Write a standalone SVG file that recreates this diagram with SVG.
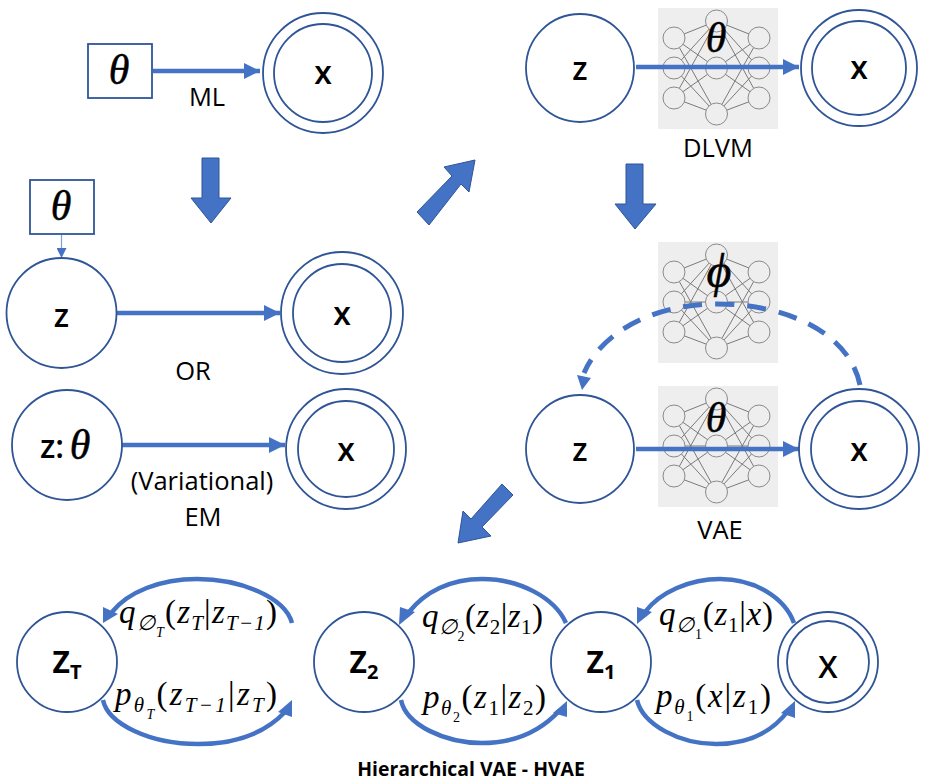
<svg xmlns="http://www.w3.org/2000/svg" width="929" height="783" viewBox="0 0 929 783">
<style>
.n{fill:#fff;stroke:#2f5597;stroke-width:1.8}
.c{fill:none;stroke:#4472c4;stroke-width:4.5}
.t{font-family:"Open Sans","Noto Sans",sans-serif;fill:#000;text-anchor:middle}
.l{font-size:25.500px}
.b{font-size:32px;font-weight:600}
.m{font-family:"Liberation Serif","DejaVu Serif",serif;font-style:italic;fill:#000}
.th{font-size:42px;text-anchor:middle;stroke:#000;stroke-width:.5}
.f{font-size:33px}
.s{font-size:21px}
.ss{font-size:14px}
.u{font-style:normal}
.a{fill:#4472c4}
.d{fill:#4472c4;stroke:#2f5597;stroke-width:1}
.g{fill:none;stroke:#7a7a7a;stroke-width:1}
</style>
<defs>
<marker id="ah" viewBox="0 0 10 10" refX="10" refY="5" markerUnits="userSpaceOnUse" markerWidth="16" markerHeight="16" orient="auto"><path d="M0 0L10 5L0 10z" class="a"/></marker>
<marker id="ah2" viewBox="0 0 10 10" refX="10" refY="5" markerUnits="userSpaceOnUse" markerWidth="10" markerHeight="10" orient="auto"><path d="M0 0L10 5L0 10z" class="a"/></marker>
<g id="nn">
<rect x="658" y="8" width="120" height="121" fill="#eeeeee"/>
<path class="g" d="M674 38L716.500 21L759 38M674 38L716.500 68L759 38M674 38L716.500 114L759 38M674 68L716.500 21L759 68M674 68H759M674 68L716.500 114L759 68M674 98L716.500 21L759 98M674 98L716.500 68L759 98M674 98L716.500 114L759 98"/>
<g fill="#eeeeee" stroke="#8a8a8a" stroke-width="1">
<circle cx="674" cy="38" r="11"/><circle cx="674" cy="68" r="11"/><circle cx="674" cy="98" r="11"/>
<circle cx="716.500" cy="21" r="11"/><circle cx="716.500" cy="68" r="11"/><circle cx="716.500" cy="114" r="11"/>
<circle cx="759" cy="38" r="11"/><circle cx="759" cy="68" r="11"/><circle cx="759" cy="98" r="11"/>
</g>
</g>
</defs>
<use href="#nn" id="nn-dlvm"/>
<use href="#nn" id="nn-phi" y="234"/>
<use href="#nn" id="nn-vae" y="378"/>
<g id="connectors">
<path class="c" d="M153 71H260" marker-end="url(#ah)"/>
<path class="c" d="M636 67H799" marker-end="url(#ah)"/>
<path class="c" d="M117 313H280" marker-end="url(#ah)"/>
<path class="c" d="M122 445H285" marker-end="url(#ah)"/>
<path d="M61.500 235V258" fill="none" stroke="#7f9fdc" stroke-width="1.200" marker-end="url(#ah2)"/>
<path class="c" d="M636 449H799" marker-end="url(#ah)"/>
<path class="c" d="M860 385C850 335 790 304 717 304C650 304 600 335 584 373" stroke-dasharray="19 13" style="stroke-width:5"/>
<path class="a" d="M577 375L591 378L582 390z"/>
<path class="c" d="M292 623C285 597 240 579 197 579C160 579 128 592 112 612"/><path class="a" d="M103 607L118 614L103 623z"/>
<path class="c" d="M103 700C108 724 150 744 198 744C235 744 265 733 285 712"/><path class="a" d="M292 700V717L278 712z"/>
<path class="c" d="M566 623C555 598 520 579 482 579C450 579 425 592 409 612"/><path class="a" d="M400 607L415 612L399 625z"/>
<path class="c" d="M401 700C406 725 445 743 482 743C515 743 540 732 560 710"/><path class="a" d="M567 701V717L553 713z"/>
<path class="c" d="M794 623C785 598 755 579 720 579C690 579 660 592 645 612"/><path class="a" d="M637 607L652 612L637 624z"/>
<path class="c" d="M637 700C643 725 680 744 716 744C748 744 772 732 788 711"/><path class="a" d="M795 701V718L781 713z"/>
</g>
<g id="arrows">
<path class="d" d="M202 158H219V198H231L211 223L191 198H202z"/>
<path class="d" d="M626 164H643V204H656L635 229L615 204H626z"/>
<path class="d" d="M417 212L452 176L444 167L475 160L469 192L461 184L429 225z"/>
<path class="d" d="M513 495L482 527L491 536L458 543L463 511L471 519L502 484z"/>
</g>
<g id="theta1"><rect x="88" y="44" width="64" height="54" class="n"/><text class="m th" x="119" y="84">θ</text></g>
<g id="x1"><circle class="n" cx="323" cy="73" r="60"/><circle class="n" cx="323" cy="73" r="49"/><text class="t b" x="323" y="84">x</text></g>
<text class="t l" x="207" y="106">ML</text>
<g id="z2"><circle class="n" cx="580" cy="68" r="54"/><text class="t b" x="580" y="80">z</text></g>
<g id="x2"><circle class="n" cx="859" cy="68" r="58"/><circle class="n" cx="859" cy="68" r="47"/><text class="t b" x="859" y="79">x</text></g>
<text class="m th" x="716" y="52">θ</text>
<text class="t l" x="718" y="157">DLVM</text>
<g id="theta3"><rect x="30" y="180" width="64" height="54" class="n"/><text class="m th" x="61" y="220">θ</text></g>
<g id="z3"><circle class="n" cx="61.500" cy="313" r="55"/><text class="t b" x="61.500" y="327">z</text></g>
<g id="x3"><circle class="n" cx="342" cy="313" r="61"/><circle class="n" cx="342" cy="313" r="49"/><text class="t b" x="342" y="325">x</text></g>
<text class="t l" x="193" y="380">OR</text>
<g id="z4"><circle class="n" cx="67" cy="445" r="55"/><text x="40" y="458" class="t b" style="text-anchor:start">z:</text><text class="m th" x="80" y="459">θ</text></g>
<g id="x4"><circle class="n" cx="346" cy="449" r="60"/><circle class="n" cx="346" cy="449" r="48"/><text class="t b" x="346" y="461">x</text></g>
<text class="t l" x="202" y="490">(Variational)</text>
<text class="t l" x="203" y="526">EM</text>
<text class="m" x="719" y="287" style="font-size:48px;text-anchor:middle;stroke:#000;stroke-width:.5">ϕ</text>
<text class="m th" x="716" y="432">θ</text>
<g id="z5"><circle class="n" cx="580" cy="449" r="54"/><text class="t b" x="580" y="461">z</text></g>
<g id="x5"><circle class="n" cx="859" cy="449" r="60"/><circle class="n" cx="859" cy="449" r="48"/><text class="t b" x="859" y="461">x</text></g>
<text class="t l" x="720" y="539">VAE</text>
<g id="zT"><circle class="n" cx="67" cy="662" r="50"/><text class="t b" x="67" y="673" style="font-weight:700;font-size:30px">Z<tspan dy="6" font-size="20">T</tspan></text></g>
<g id="z2b"><circle class="n" cx="364" cy="662" r="50"/><text class="t b" x="364" y="673" style="font-weight:700;font-size:30px">Z<tspan dy="6" font-size="20">2</tspan></text></g>
<g id="z1b"><circle class="n" cx="601" cy="662" r="50"/><text class="t b" x="601" y="673" style="font-weight:700;font-size:30px">Z<tspan dy="6" font-size="20">1</tspan></text></g>
<g id="xb"><circle class="n" cx="828" cy="662" r="50"/><circle class="n" cx="828" cy="662" r="41"/><text class="t b" x="828" y="678" style="font-size:31px">X</text></g>
<g id="labels">
<text class="m f" x="119" y="623" textLength="158">q<tspan class="s" dy="7">∅</tspan><tspan class="ss" dy="7">T</tspan><tspan class="u" dy="-14">(</tspan>z<tspan class="s" dy="7">T</tspan><tspan class="u" dy="-7">|</tspan>z<tspan class="s" dy="7">T−1</tspan><tspan class="u" dy="-7">)</tspan></text>
<text class="m f" x="115" y="705" textLength="162">p<tspan class="s" dy="7">θ</tspan><tspan class="ss" dy="7">T</tspan><tspan class="u" dy="-14">(</tspan>z<tspan class="s" dy="7">T−1</tspan><tspan class="u" dy="-7">|</tspan>z<tspan class="s" dy="7">T</tspan><tspan class="u" dy="-7">)</tspan></text>
<text class="m f" x="422" y="627" textLength="121">q<tspan class="s" dy="7">∅</tspan><tspan class="ss u" dy="7">2</tspan><tspan class="u" dy="-14">(</tspan>z<tspan class="s u" dy="7">2</tspan><tspan class="u" dy="-7">|</tspan>z<tspan class="s u" dy="7">1</tspan><tspan class="u" dy="-7">)</tspan></text>
<text class="m f" x="423" y="708" textLength="123">p<tspan class="s" dy="7">θ</tspan><tspan class="ss u" dy="7">2</tspan><tspan class="u" dy="-14">(</tspan>z<tspan class="s u" dy="7">1</tspan><tspan class="u" dy="-7">|</tspan>z<tspan class="s u" dy="7">2</tspan><tspan class="u" dy="-7">)</tspan></text>
<text class="m f" x="659" y="625" textLength="114">q<tspan class="s" dy="7">∅</tspan><tspan class="ss u" dy="7">1</tspan><tspan class="u" dy="-14">(</tspan>z<tspan class="s u" dy="7">1</tspan><tspan class="u" dy="-7">|</tspan>x<tspan class="u">)</tspan></text>
<text class="m f" x="656" y="707" textLength="115">p<tspan class="s" dy="7">θ</tspan><tspan class="ss u" dy="7">1</tspan><tspan class="u" dy="-14">(</tspan>x<tspan class="u">|</tspan>z<tspan class="s u" dy="7">1</tspan><tspan class="u" dy="-7">)</tspan></text>
</g>
<text class="t" x="471" y="776" style="font-size:19.400px;font-weight:700">Hierarchical VAE - HVAE</text>
</svg>
